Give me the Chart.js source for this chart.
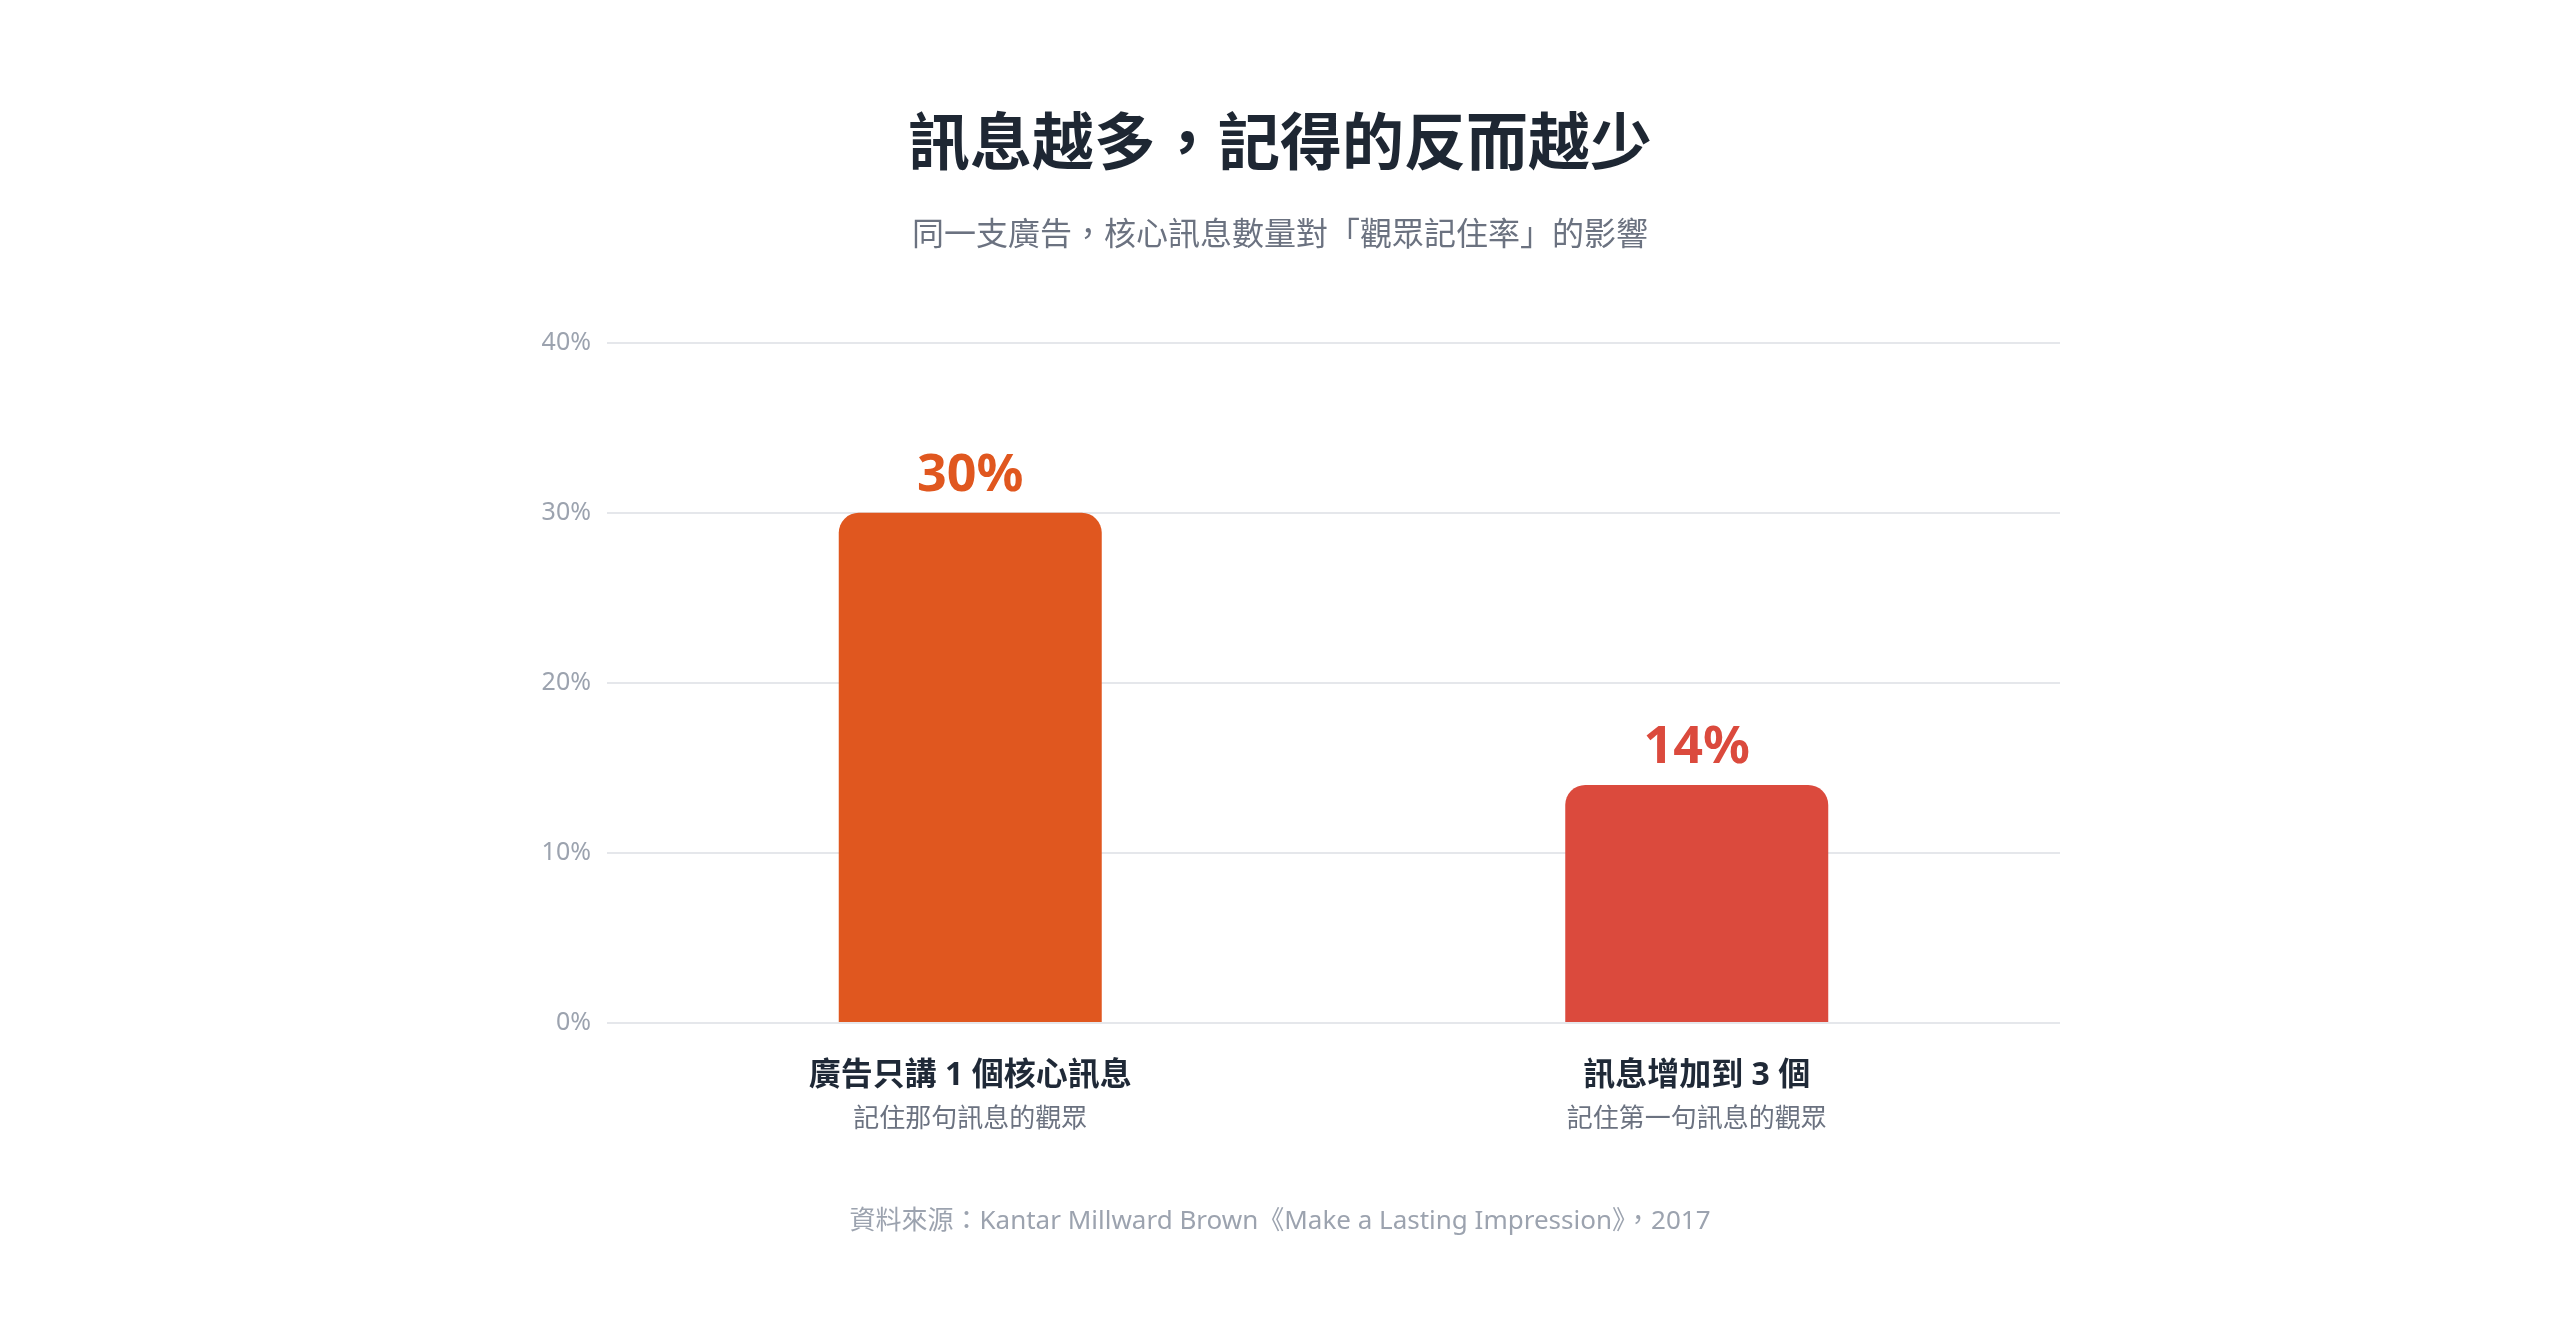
<!DOCTYPE html>
<html lang="zh-Hant">
<head>
<meta charset="utf-8">
<script src="https://cdn.jsdelivr.net/npm/chart.js@4/dist/chart.umd.min.js"></script>
<style>
  html, body { margin: 0; padding: 0; background: #ffffff; }
  #wrap { position: relative; width: 2560px; height: 1322px; }
</style>
</head>
<body>
<div id="wrap"><canvas id="memoryChart"></canvas></div>
<script>
document.addEventListener("DOMContentLoaded", () => {

/* DATA */
const mainLabels = ["廣告只講 1 個核心訊息", "訊息增加到 3 個"];
const subLabels = ["記住那句訊息的觀眾", "記住第一句訊息的觀眾"];
const recallRates = [30, 14];
const barColors = ["#E0571F", "#DB4A3D"];
const yTicks = [0, 10, 20, 30, 40];

const titleText = "訊息越多，記得的反而越少";
const subtitleText = "同一支廣告，核心訊息數量對「觀眾記住率」的影響";
const sourceText = "資料來源：Kantar Millward Brown《Make a Lasting Impression》，2017";

const FONT = "'Noto Sans', 'Noto Sans CJK TC', sans-serif";

/* value labels above bars */
const valueLabels = {
    id: "valueLabels",
    afterDatasetsDraw(chart) {
        const ctx = chart.ctx;
        const meta = chart.getDatasetMeta(0);
        ctx.save();
        ctx.font = "bold 52px " + FONT;
        ctx.textAlign = "center";
        ctx.textBaseline = "middle";
        meta.data.forEach((bar, i) => {
            ctx.fillStyle = barColors[i];
            ctx.fillText(recallRates[i] + "%", bar.x, bar.y - 37);
        });
        ctx.restore();
    }
};

/* second (grey) line under each category, plus the source line */
const footerText = {
    id: "footerText",
    afterDraw(chart) {
        const ctx = chart.ctx;
        const xs = chart.scales.x;
        ctx.save();
        ctx.textAlign = "center";
        ctx.textBaseline = "middle";

        ctx.font = "26px " + FONT;
        ctx.fillStyle = "#6B7280";
        subLabels.forEach((txt, i) => {
            ctx.fillText(txt, xs.getPixelForValue(i), chart.chartArea.bottom + 97);
        });

        ctx.fillStyle = "#9CA3AF";
        ctx.fillText(sourceText, chart.width / 2, chart.height - 100);
        ctx.restore();
    }
};

new Chart(document.getElementById("memoryChart"), {
    type: "bar",
    data: {
        labels: mainLabels,
        datasets: [{
            data: recallRates,
            backgroundColor: barColors,
            borderRadius: 20,
            borderSkipped: "bottom",
            categoryPercentage: 1,
            barPercentage: 0.362
        }]
    },
    options: {
        responsive: true,
        maintainAspectRatio: false,
        animation: false,
        layout: { padding: { left: 500, right: 500, top: 0, bottom: 219 } },
        plugins: {
            legend: { display: false },
            tooltip: { enabled: false },
            title: {
                display: true,
                text: titleText,
                color: "#1E2733",
                font: { family: FONT, size: 62, weight: "bold", lineHeight: 1.2 },
                padding: { top: 110, bottom: 0 }
            },
            subtitle: {
                display: true,
                text: subtitleText,
                color: "#6B7280",
                font: { family: FONT, size: 32, lineHeight: 1.2 },
                padding: { top: 32, bottom: 88 }
            }
        },
        scales: {
            x: {
                afterFit(scale) { scale.height = 80; },
                grid: { display: false, drawTicks: false },
                border: { display: false },
                ticks: {
                    color: "#1F2937",
                    padding: 34,
                    font: { family: FONT, size: 32, weight: "bold", lineHeight: 1.2 }
                }
            },
            y: {
                min: yTicks[0],
                max: yTicks[yTicks.length - 1],
                afterFit(scale) { scale.width = 107; },
                afterBuildTicks(scale) { scale.ticks = yTicks.map(v => ({ value: v })); },
                grid: { color: "#E5E7EB", lineWidth: 2, drawTicks: false },
                border: { display: false },
                ticks: {
                    color: "#9CA3AF",
                    padding: 16,
                    font: { family: FONT, size: 25 },
                    callback: v => v + "%"
                }
            }
        }
    },
    plugins: [valueLabels, footerText]
});

});
</script>
</body>
</html>
